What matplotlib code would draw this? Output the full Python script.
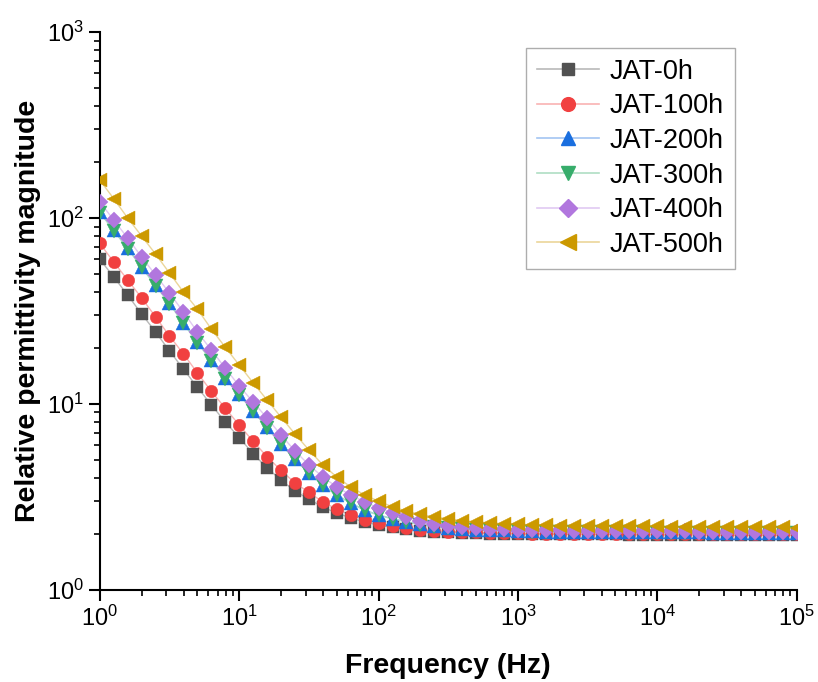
import numpy as np
import matplotlib
matplotlib.use("Agg")
import matplotlib.pyplot as plt
from matplotlib.colors import to_rgb

plt.rcParams["font.family"] = ["Liberation Sans", "DejaVu Sans"]
plt.rcParams["mathtext.fontset"] = "custom"
plt.rcParams["mathtext.rm"] = "Liberation Sans"
plt.rcParams["mathtext.it"] = "Liberation Sans:italic"
plt.rcParams["mathtext.bf"] = "Liberation Sans:bold"
plt.rcParams["mathtext.default"] = "regular"

# frequencies: 10 points per decade, 1 Hz .. 100 kHz
freq = [1.0, 1.259, 1.585, 1.995, 2.512, 3.162, 3.981, 5.012, 6.310, 7.943,
        10.0, 12.59, 15.85, 19.95, 25.12, 31.62, 39.81, 50.12, 63.10, 79.43,
        100.0, 125.9, 158.5, 199.5, 251.2, 316.2, 398.1, 501.2, 631.0, 794.3,
        1e3, 1259, 1585, 1995, 2512, 3162, 3981, 5012, 6310, 7943,
        1e4, 12589, 15849, 19953, 25119, 31623, 39811, 50119, 63096, 79433,
        1e5]

jat_0h = [60.0, 48.2, 38.5, 30.5, 24.4, 19.3, 15.4, 12.3, 9.9, 8.0,
          6.6, 5.4, 4.53, 3.9, 3.4, 3.08, 2.79, 2.59, 2.44, 2.32,
          2.23, 2.17, 2.12, 2.08, 2.06, 2.04, 2.03, 2.02, 2.01, 2.01,
          2.00, 2.00, 2.00, 1.99, 1.99, 1.99, 1.99, 1.99, 1.98, 1.98,
          1.98, 1.98, 1.98, 1.98, 1.97, 1.97, 1.97, 1.97, 1.97, 1.97,
          1.97]
jat_100h = [73.0, 58.0, 46.4, 37.2, 29.4, 23.2, 18.6, 14.7, 11.7, 9.5,
            7.7, 6.3, 5.2, 4.4, 3.76, 3.35, 2.97, 2.72, 2.53, 2.38,
            2.29, 2.21, 2.15, 2.11, 2.08, 2.06, 2.05, 2.04, 2.03, 2.02,
            2.02, 2.01, 2.01, 2.01, 2.00, 2.00, 2.00, 2.00, 2.00, 2.00,
            1.99, 1.99, 1.99, 1.99, 1.99, 1.99, 1.99, 1.99, 1.99, 1.99,
            1.99]
jat_200h = [108.0, 86.0, 69.0, 54.6, 43.6, 34.9, 27.3, 21.5, 17.2, 13.8,
            11.3, 9.2, 7.5, 6.1, 5.06, 4.26, 3.67, 3.24, 2.94, 2.69,
            2.53, 2.42, 2.33, 2.25, 2.20, 2.16, 2.13, 2.11, 2.10, 2.09,
            2.08, 2.07, 2.06, 2.06, 2.05, 2.05, 2.05, 2.05, 2.04, 2.04,
            2.04, 2.04, 2.04, 2.04, 2.03, 2.03, 2.03, 2.03, 2.03, 2.03,
            2.03]
jat_300h = [107.0, 85.5, 68.5, 54.2, 43.3, 34.6, 27.1, 21.4, 17.1, 13.7,
            11.2, 9.15, 7.45, 6.07, 5.03, 4.24, 3.65, 3.23, 2.93, 2.68,
            2.52, 2.41, 2.32, 2.24, 2.19, 2.15, 2.12, 2.10, 2.09, 2.08,
            2.07, 2.06, 2.06, 2.05, 2.05, 2.04, 2.04, 2.04, 2.04, 2.04,
            2.03, 2.03, 2.03, 2.03, 2.03, 2.03, 2.03, 2.03, 2.02, 2.02,
            2.02]
jat_400h = [122.0, 97.5, 78.0, 61.7, 49.4, 39.5, 31.2, 24.4, 19.5, 15.6,
            12.5, 10.25, 8.4, 6.8, 5.6, 4.7, 4.05, 3.58, 3.24, 2.97,
            2.76, 2.60, 2.46, 2.35, 2.27, 2.21, 2.18, 2.15, 2.13, 2.12,
            2.11, 2.10, 2.09, 2.09, 2.08, 2.08, 2.08, 2.07, 2.07, 2.07,
            2.07, 2.07, 2.07, 2.06, 2.06, 2.06, 2.06, 2.06, 2.06, 2.06,
            2.06]
jat_500h = [160.0, 127.0, 100.0, 80.0, 64.0, 50.6, 40.0, 32.4, 25.3, 20.2,
            16.2, 13.0, 10.5, 8.5, 6.9, 5.66, 4.7, 4.05, 3.58, 3.24,
            3.0, 2.8, 2.65, 2.55, 2.47, 2.41, 2.36, 2.32, 2.29, 2.27,
            2.25, 2.24, 2.23, 2.22, 2.22, 2.21, 2.21, 2.20, 2.20, 2.20,
            2.20, 2.19, 2.19, 2.19, 2.18, 2.18, 2.18, 2.17, 2.17, 2.17,
            2.16]

labels = ["JAT-0h", "JAT-100h", "JAT-200h", "JAT-300h", "JAT-400h", "JAT-500h"]
series = [jat_0h, jat_100h, jat_200h, jat_300h, jat_400h, jat_500h]
colors = ["#515151", "#F14040", "#1A6FDF", "#37AD6B", "#B177DE", "#CC9900"]
markers = ["s", "o", "^", "v", "D", "<"]
msizes = [8, 9, 9.5, 9.5, 8, 10]


def light(c, f=0.6):
    # blend colour toward white for the faint connecting lines
    r, g, b = to_rgb(c)
    return (r + (1 - r) * f, g + (1 - g) * f, b + (1 - b) * f)


fig = plt.figure(figsize=(8.18, 6.82), dpi=100)
ax = fig.add_axes([0.122, 0.135, 0.852, 0.818])

for y, lab, c, m, ms in zip(series, labels, colors, markers, msizes):
    ax.plot(freq, y, color=light(c), lw=1, zorder=2)
    ax.plot(freq, y, ls="none", marker=m, ms=ms, color=c, mec=c, mew=0.3, zorder=3)
    # legend handle: faint line with solid marker
    ax.plot([], [], color=light(c), lw=1.2, marker=m, ms=ms * 1.1, mfc=c, mec=c,
            label=lab)

ax.set_xscale("log")
ax.set_yscale("log")
ax.set_xlim(1, 1e5)
ax.set_ylim(1, 1000)

ax.spines["top"].set_visible(False)
ax.spines["right"].set_visible(False)
ax.spines["left"].set_linewidth(1.5)
ax.spines["bottom"].set_linewidth(1.5)
ax.tick_params(which="major", direction="out", length=8, width=1.5, labelsize=17)
ax.tick_params(which="minor", direction="out", length=4.5, width=1.2)

ax.set_xlabel("Frequency (Hz)", fontsize=20.5, fontweight="bold", labelpad=16)
ax.set_ylabel("Relative permittivity magnitude", fontsize=20.5, fontweight="bold", labelpad=4)

leg = ax.legend(loc="upper right", bbox_to_anchor=(0.911, 0.972), fontsize=19.5,
                frameon=True, fancybox=False, edgecolor="#999999",
                handlelength=2.3, handletextpad=0.4, labelspacing=0.32,
                borderpad=0.4, borderaxespad=0, numpoints=1)
leg.get_frame().set_linewidth(1.0)

fig.savefig("out.png", dpi=100)
